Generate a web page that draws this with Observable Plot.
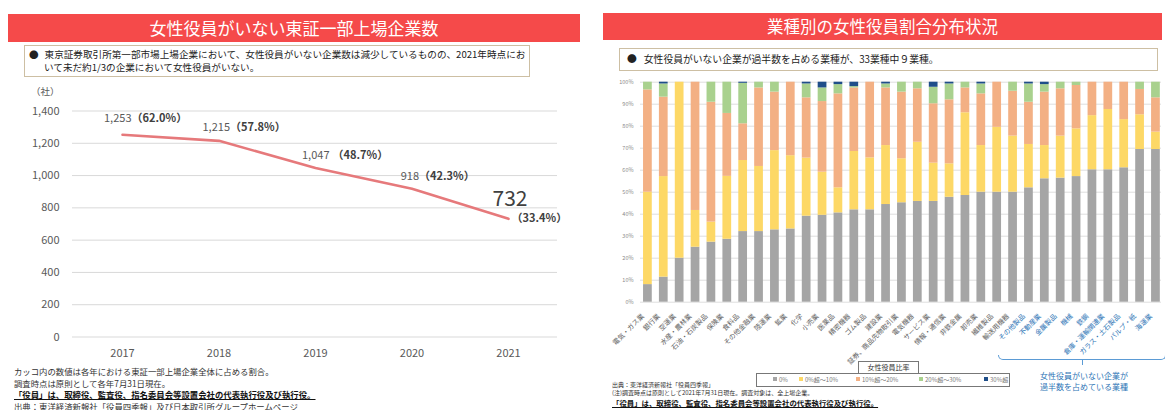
<!DOCTYPE html>
<html><head><meta charset="utf-8">
<script src="https://cdn.jsdelivr.net/npm/d3@7"></script>
<script src="https://cdn.jsdelivr.net/npm/@observablehq/plot@0.6"></script>
<style>
body{margin:0;width:1165px;height:410px;overflow:hidden;position:relative;background:#fff;font-family:"Noto Sans CJK JP","Noto Sans",sans-serif;}
.a{position:absolute;white-space:nowrap;}
.tbar{background:#f54a4a;color:#fff;text-align:center;}
.box{border:1px solid #cdbfa3;box-sizing:border-box;background:#fff;color:#222;}
.sw{display:inline-block;width:4px;height:4px;margin-right:2px;vertical-align:middle;position:relative;top:-1px}
</style></head><body>

<script>
// ---------- Left chart data ----------
const years = ["2017", "2018", "2019", "2020", "2021"];
const counts = [1253, 1215, 1047, 918, 732];
const shares = ["62.0%", "57.8%", "48.7%", "42.3%", "33.4%"];
const yTicksLeft = [0, 200, 400, 600, 800, 1000, 1200, 1400];

// ---------- Right chart data ----------
const industries = ["電気・ガス業","銀行業","空運業","水産・農林業","石油・石炭製品","保険業","食料品","その他金融業","陸運業","鉱業","化学","小売業","医薬品","精密機器","ゴム製品","建設業","証券、商品先物取引業","電気機器","サービス業","情報・通信業","非鉄金属","卸売業","繊維製品","輸送用機器","その他製品","不動産業","金属製品","機械","鉄鋼","倉庫・運輸関連業","ガラス・土石製品","パルプ・紙","海運業"];
const highlighted = ["その他製品","不動産業","金属製品","機械","鉄鋼","倉庫・運輸関連業","ガラス・土石製品","パルプ・紙","海運業"];
const bands = ["0%", "0%超～10%", "10%超～20%", "20%超～30%", "30%超"];
const share0 =    [8.0,11.4,20.0,25.0,27.3,28.6,32.1,32.1,32.9,33.3,39.1,39.5,40.6,42.0,42.0,44.4,45.2,45.8,45.8,47.7,48.5,50.0,50.0,50.0,52.0,56.1,56.4,57.1,60.2,60.2,61.1,69.4,69.4];
const share0to10 =[42.0,45.7,80.0,16.7,9.1,28.6,32.3,29.6,36.0,33.3,26.4,19.6,11.4,26.5,23.6,26.8,20.0,26.9,17.4,15.2,37.6,21.2,29.5,25.5,19.7,15.1,19.1,21.7,24.6,27.4,21.9,15.8,7.9];
const share10to20=[46.5,36.1,0,58.3,54.5,28.6,16.7,35.7,26.6,33.4,27.4,32.1,42.7,28.9,34.4,26.2,30.3,24.3,27.0,29.1,11.3,23.5,20.5,20.4,19.2,24.3,21.5,19.7,15.2,12.4,17.0,11.5,15.6];
const share20to30=[3.5,6.0,0,0,9.1,14.2,18.4,2.6,4.5,0,6.3,6.2,4.2,0.6,0,1.8,4.5,3.0,7.5,7.2,2.6,4.5,0,4.1,8.3,3.4,3.0,1.5,0,0,0,3.3,7.1];
const share30 =   [0,0.8,0,0,0,0,0.5,0,0,0,0.8,2.6,1.1,2.0,0,0.8,0,0,2.3,0.8,0,0.8,0,0,0.8,1.1,0,0,0,0,0,0,0];
const yTicksRight = [0,10,20,30,40,50,60,70,80,90,100];
const bandColors = ["#a5a5a5", "#fdd866", "#f3b084", "#a9d18e", "#1f4e89"];
</script>

<!-- Left panel -->
<div class="a tbar" style="left:8px;top:14px;width:572px;height:28px;line-height:28px;font-size:17px;">女性役員がいない東証一部上場企業数</div>
<div class="a box" style="left:24px;top:45px;width:506px;height:32px;"></div>
<div class="a" style="left:29px;top:48px;font-size:9.6px;line-height:13px;color:#222;">●<span style="margin-left:6px">東京証券取引所第一部市場上場企業において、女性役員がいない企業数は減少しているものの、2021年時点にお</span><br><span style="margin-left:15px">いて未だ約1/3の企業において女性役員がいない。</span></div>
<div class="a" style="left:31px;top:84px;font-size:9.5px;color:#595959;">（社）</div>
<div id="left" class="a" style="left:0;top:80px;width:580px;height:290px;"></div>
<div class="a" style="left:14px;top:366px;font-size:8.4px;line-height:11.7px;color:#333;">カッコ内の数値は各年における東証一部上場企業全体に占める割合。<br>調査時点は原則として各年7月31日現在。<br><b style="text-decoration:underline;color:#111">「役員」は、取締役、監査役、指名委員会等設置会社の代表執行役及び執行役。</b><br>出典：東洋経済新報社「役員四季報」及び日本取引所グループホームページ</div>

<!-- Right panel -->
<div class="a tbar" style="left:603px;top:13px;width:559px;height:27px;line-height:27px;font-size:16.5px;">業種別の女性役員割合分布状況</div>
<div class="a box" style="left:619px;top:48px;width:539px;height:23px;"></div>
<div class="a" style="left:627px;top:53px;font-size:9.8px;line-height:13px;color:#222;">●<span style="margin-left:7px">女性役員がいない企業が過半数を占める業種が、33業種中９業種。</span></div>
<div id="right" class="a" style="left:600px;top:70px;width:565px;height:330px;"></div>

<div class="a box" style="left:858px;top:361px;width:61px;height:13px;border-color:#777;font-size:7px;line-height:11px;text-align:center;color:#333;">女性役員比率</div>
<div class="a box" id="legend" style="left:756px;top:373px;width:254px;height:14px;border-color:#777;"></div>

<div class="a" style="left:998px;top:355px;width:166px;height:4px;border:1px solid #5b9bd5;border-top:none;border-radius:0 0 5px 5px;"></div>
<div class="a" style="left:1082px;top:360px;width:1px;height:5px;background:#5b9bd5;"></div>
<div class="a" style="left:1040px;top:371px;font-size:8px;line-height:10.5px;color:#2e75b6;">女性役員がいない企業が<br>過半数を占めている業種</div>

<div class="a" style="left:612px;top:381px;font-size:6px;line-height:8px;color:#333;">出典：東洋経済新報社「役員四季報」<br>(注)調査時点は原則として2021年7月31日現在。調査対象は、全上場企業。</div>
<div class="a" style="left:612px;top:398px;font-size:7.4px;line-height:10px;color:#111;"><b style="text-decoration:underline">「役員」は、取締役、監査役、指名委員会等設置会社の代表執行役及び執行役。</b></div>

<script>
const FONT = '"Noto Sans CJK JP","Noto Sans",sans-serif';
// ----- Left line chart -----
const lineData = years.map((y, i) => ({year: y, count: counts[i], share: shares[i]}));
const fmt = d3.format(",");
const labelMarks = [];
const numDx = [9, 11, 14, 7], pctDx = [9, 11, 17, 7], lDy = [-16, -13, -12.5, -12];
for (let i = 0; i < 4; i++) {
  const d = [lineData[i]];
  labelMarks.push(Plot.text(d, {x: "year", y: "count", text: r => fmt(r.count), textAnchor: "end", dx: numDx[i], dy: lDy[i], fontSize: 11, fill: "#595959"}));
  labelMarks.push(Plot.text(d, {x: "year", y: "count", text: r => "（" + r.share + "）", textAnchor: "start", dx: pctDx[i], dy: lDy[i], fontSize: 11, fontWeight: "bold", fill: "#404040"}));
}
const last = [lineData[4]];
labelMarks.push(Plot.text(last, {x: "year", y: "count", text: r => String(r.count), textAnchor: "end", dx: 19, dy: -20, fontSize: 21, fill: "#404040"}));
labelMarks.push(Plot.text(last, {x: "year", y: "count", text: r => "（" + r.share + "）", textAnchor: "start", dx: 3, dy: 0, fontSize: 11, fontWeight: "bold", fill: "#404040"}));

const leftPlot = Plot.plot({
  width: 580, height: 290,
  marginLeft: 72, marginRight: 23, marginTop: 30.5, marginBottom: 33.5,
  style: {background: "transparent", fontFamily: FONT, overflow: "visible"},
  x: {type: "point", domain: years, range: [122, 508], padding: 0, round: false},
  y: {domain: [0, 1400]},
  marks: [
    Plot.gridY(yTicksLeft, {stroke: "#d9d9d9", strokeOpacity: 1}),
    Plot.axisY(yTicksLeft, {tickSize: 0, tickPadding: 13, tickFormat: fmt, fontSize: 11, fill: "#595959", label: null}),
    Plot.axisX({tickSize: 0, tickPadding: 12, fontSize: 11, fill: "#595959", label: null}),
    Plot.line(lineData, {x: "year", y: "count", stroke: "#e6797b", strokeWidth: 2.6}),
    ...labelMarks
  ]
});
document.getElementById("left").appendChild(leftPlot);

// ----- Right stacked bar chart -----
const series = [share0, share0to10, share10to20, share20to30, share30];
const rows = [];
industries.forEach((c, i) => bands.forEach((b, j) => rows.push({industry: c, band: b, value: series[j][i]})));
const step = 15.9;
const r0 = 35.1;
const grayCats = industries.filter(c => !highlighted.includes(c));
const rightPlot = Plot.plot({
  width: 565, height: 330,
  marginLeft: 40, marginRight: 4, marginTop: 11.7, marginBottom: 98.3,
  style: {background: "transparent", fontFamily: FONT, overflow: "visible"},
  x: {type: "band", domain: industries, range: [r0, r0 + step * 33.5], paddingInner: 0.45, paddingOuter: 0.5, round: false, axis: null},
  y: {domain: [0, 100]},
  color: {domain: bands, range: bandColors},
  marks: [
    Plot.gridY(yTicksRight, {stroke: "#dedede", strokeOpacity: 1}),
    Plot.axisY(yTicksRight, {tickSize: 0, tickPadding: 7, tickFormat: d => d + "%", fontSize: 5.5, fill: "#8a8a8a", label: null}),
    Plot.barY(rows, {x: "industry", y: "value", fill: "band"}),
    Plot.text(grayCats, {x: d => d, y: () => 0, text: d => d, rotate: -45, textAnchor: "end", dx: -5, dy: 13, fontSize: 6.8, fill: "#5f5f5f"}),
    Plot.text(highlighted, {x: d => d, y: () => 0, text: d => d, rotate: -45, textAnchor: "end", dx: -5, dy: 13, fontSize: 6.8, fill: "#2e75b6"})
  ]
});
document.getElementById("right").appendChild(rightPlot);

// ----- Legend -----
const legendX = [16, 42, 99, 162, 227];
const leg = document.getElementById("legend");
bands.forEach((b, j) => {
  const s = document.createElement("div");
  s.className = "a";
  s.style.cssText = `left:${legendX[j]}px;top:1px;font-size:6px;line-height:10px;color:#777;`;
  s.innerHTML = `<span class="sw" style="background:${bandColors[j]}"></span>${b}`;
  leg.appendChild(s);
});
</script>
</body></html>
